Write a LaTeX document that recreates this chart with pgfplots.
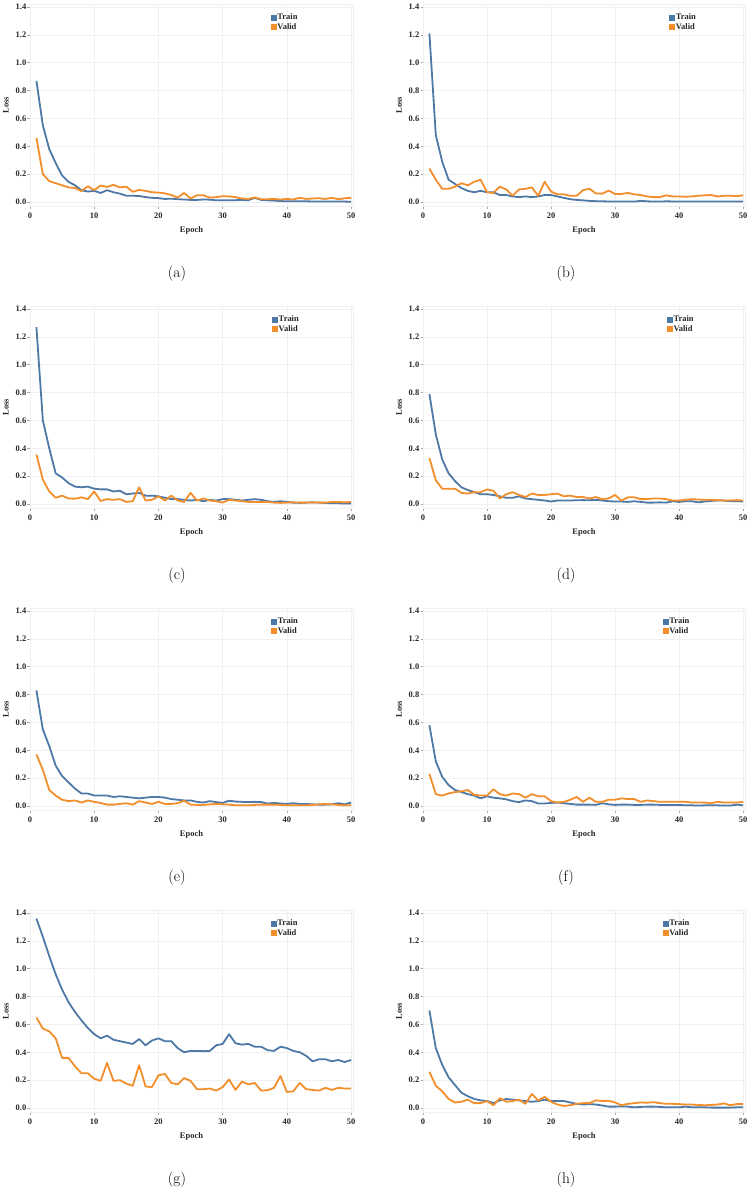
\documentclass[border=0pt]{standalone}
\usepackage{fontspec}
\usepackage{pgfplots}
\usepackage{pgfplotstable}
\pgfplotsset{compat=1.18}
\newfontfamily\tnr{Liberation Serif}
\newcommand\tnrb{\tnr\bfseries\fontsize{8.5}{9}\selectfont}
\definecolor{tabblue}{HTML}{4E79A7}
\definecolor{taborange}{HTML}{F28E2B}
\definecolor{gridc}{HTML}{F0F0F0}

\pgfplotstableread{
e t v
1 0.87 0.46
2 0.55 0.20
3 0.38 0.15
4 0.28 0.135
5 0.19 0.12
6 0.145 0.105
7 0.12 0.10
8 0.085 0.078
9 0.075 0.113
10 0.08 0.085
11 0.065 0.118
12 0.085 0.108
13 0.07 0.123
14 0.06 0.105
15 0.045 0.11
16 0.045 0.073
17 0.043 0.087
18 0.035 0.08
19 0.03 0.07
20 0.028 0.068
21 0.022 0.062
22 0.024 0.05
23 0.02 0.032
24 0.018 0.065
25 0.015 0.025
26 0.015 0.048
27 0.018 0.048
28 0.017 0.032
29 0.012 0.035
30 0.012 0.042
31 0.012 0.04
32 0.013 0.035
33 0.015 0.025
34 0.013 0.022
35 0.03 0.033
36 0.015 0.02
37 0.012 0.02
38 0.01 0.022
39 0.007 0.018
40 0.005 0.022
41 0.005 0.018
42 0.005 0.03
43 0.005 0.022
44 0.004 0.025
45 0.004 0.027
46 0.004 0.022
47 0.003 0.03
48 0.003 0.02
49 0.003 0.027
50 0.002 0.03
}\tA

\pgfplotstableread{
e t v
1 1.21 0.24
2 0.48 0.16
3 0.29 0.095
4 0.16 0.095
5 0.13 0.11
6 0.10 0.135
7 0.08 0.12
8 0.07 0.145
9 0.08 0.16
10 0.07 0.07
11 0.07 0.065
12 0.05 0.11
13 0.05 0.09
14 0.04 0.045
15 0.035 0.09
16 0.04 0.095
17 0.035 0.105
18 0.04 0.045
19 0.05 0.145
20 0.05 0.075
21 0.04 0.055
22 0.03 0.055
23 0.02 0.045
24 0.015 0.045
25 0.012 0.085
26 0.008 0.095
27 0.006 0.062
28 0.005 0.06
29 0.004 0.082
30 0.003 0.058
31 0.003 0.058
32 0.003 0.065
33 0.003 0.055
34 0.008 0.05
35 0.005 0.04
36 0.003 0.035
37 0.003 0.035
38 0.005 0.048
39 0.004 0.04
40 0.003 0.04
41 0.003 0.038
42 0.003 0.04
43 0.003 0.045
44 0.003 0.048
45 0.003 0.05
46 0.004 0.04
47 0.004 0.045
48 0.003 0.045
49 0.003 0.042
50 0.003 0.048
}\tB

\pgfplotstableread{
e t v
1 1.27 0.355
2 0.60 0.175
3 0.40 0.09
4 0.22 0.045
5 0.19 0.06
6 0.15 0.04
7 0.125 0.038
8 0.12 0.048
9 0.125 0.035
10 0.11 0.09
11 0.105 0.022
12 0.105 0.035
13 0.09 0.03
14 0.095 0.035
15 0.07 0.015
16 0.075 0.02
17 0.08 0.12
18 0.06 0.025
19 0.06 0.03
20 0.055 0.055
21 0.045 0.025
22 0.035 0.06
23 0.035 0.025
24 0.03 0.015
25 0.025 0.08
26 0.03 0.025
27 0.02 0.04
28 0.03 0.025
29 0.025 0.02
30 0.035 0.01
31 0.035 0.03
32 0.03 0.025
33 0.025 0.02
34 0.03 0.015
35 0.035 0.015
36 0.03 0.015
37 0.02 0.015
38 0.015 0.01
39 0.02 0.008
40 0.015 0.01
41 0.01 0.012
42 0.008 0.01
43 0.01 0.01
44 0.012 0.012
45 0.01 0.01
46 0.008 0.01
47 0.005 0.015
48 0.005 0.015
49 0.004 0.012
50 0.004 0.015
}\tC

\pgfplotstableread{
e t v
1 0.79 0.33
2 0.50 0.17
3 0.32 0.11
4 0.22 0.11
5 0.165 0.11
6 0.12 0.08
7 0.10 0.075
8 0.085 0.085
9 0.07 0.085
10 0.07 0.105
11 0.065 0.095
12 0.055 0.04
13 0.045 0.07
14 0.045 0.085
15 0.055 0.065
16 0.04 0.05
17 0.035 0.075
18 0.03 0.065
19 0.025 0.065
20 0.018 0.07
21 0.025 0.075
22 0.025 0.055
23 0.025 0.06
24 0.027 0.05
25 0.028 0.05
26 0.027 0.04
27 0.03 0.05
28 0.025 0.035
29 0.02 0.04
30 0.018 0.065
31 0.018 0.025
32 0.015 0.048
33 0.02 0.048
34 0.015 0.035
35 0.01 0.035
36 0.01 0.04
37 0.012 0.04
38 0.01 0.035
39 0.02 0.025
40 0.015 0.025
41 0.02 0.03
42 0.02 0.035
43 0.012 0.032
44 0.018 0.03
45 0.022 0.03
46 0.025 0.028
47 0.025 0.025
48 0.02 0.025
49 0.02 0.028
50 0.018 0.025
}\tD

\pgfplotstableread{
e t v
1 0.83 0.37
2 0.55 0.26
3 0.43 0.115
4 0.29 0.075
5 0.215 0.045
6 0.17 0.035
7 0.125 0.04
8 0.09 0.025
9 0.09 0.04
10 0.075 0.03
11 0.075 0.022
12 0.075 0.01
13 0.065 0.01
14 0.07 0.015
15 0.065 0.02
16 0.06 0.01
17 0.055 0.035
18 0.06 0.025
19 0.065 0.015
20 0.065 0.03
21 0.06 0.015
22 0.05 0.015
23 0.045 0.02
24 0.04 0.038
25 0.04 0.01
26 0.03 0.008
27 0.025 0.008
28 0.035 0.012
29 0.028 0.015
30 0.022 0.012
31 0.038 0.01
32 0.032 0.005
33 0.03 0.005
34 0.028 0.005
35 0.03 0.008
36 0.028 0.01
37 0.018 0.01
38 0.022 0.01
39 0.018 0.008
40 0.015 0.005
41 0.02 0.005
42 0.015 0.005
43 0.015 0.005
44 0.012 0.008
45 0.01 0.012
46 0.01 0.015
47 0.012 0.012
48 0.02 0.008
49 0.012 0.005
50 0.025 0.005
}\tE

\pgfplotstableread{
e t v
1 0.58 0.23
2 0.32 0.085
3 0.21 0.075
4 0.15 0.09
5 0.115 0.10
6 0.10 0.105
7 0.085 0.115
8 0.075 0.08
9 0.055 0.075
10 0.07 0.075
11 0.06 0.12
12 0.055 0.085
13 0.048 0.075
14 0.035 0.09
15 0.028 0.085
16 0.04 0.06
17 0.035 0.085
18 0.018 0.07
19 0.018 0.07
20 0.022 0.035
21 0.025 0.025
22 0.02 0.03
23 0.015 0.045
24 0.01 0.065
25 0.01 0.03
26 0.01 0.06
27 0.008 0.03
28 0.02 0.03
29 0.012 0.045
30 0.008 0.045
31 0.01 0.055
32 0.01 0.05
33 0.008 0.05
34 0.008 0.03
35 0.01 0.04
36 0.01 0.035
37 0.008 0.03
38 0.008 0.03
39 0.008 0.03
40 0.008 0.03
41 0.005 0.03
42 0.005 0.025
43 0.003 0.025
44 0.005 0.025
45 0.005 0.02
46 0.005 0.03
47 0.003 0.025
48 0.003 0.025
49 0.01 0.025
50 0.005 0.03
}\tF

\pgfplotstableread{
e t v
1 1.36 0.65
2 1.23 0.57
3 1.09 0.55
4 0.96 0.50
5 0.85 0.36
6 0.76 0.36
7 0.69 0.30
8 0.63 0.25
9 0.575 0.25
10 0.53 0.21
11 0.50 0.195
12 0.52 0.324
13 0.49 0.195
14 0.48 0.20
15 0.47 0.175
16 0.46 0.16
17 0.495 0.307
18 0.45 0.155
19 0.485 0.15
20 0.50 0.235
21 0.48 0.245
22 0.48 0.18
23 0.43 0.17
24 0.40 0.215
25 0.41 0.195
26 0.41 0.135
27 0.408 0.135
28 0.41 0.14
29 0.45 0.125
30 0.46 0.15
31 0.53 0.205
32 0.465 0.13
33 0.455 0.19
34 0.46 0.17
35 0.44 0.18
36 0.44 0.125
37 0.415 0.128
38 0.41 0.145
39 0.44 0.23
40 0.43 0.115
41 0.41 0.12
42 0.40 0.18
43 0.375 0.135
44 0.335 0.13
45 0.35 0.125
46 0.35 0.145
47 0.335 0.13
48 0.345 0.145
49 0.33 0.14
50 0.345 0.14
}\tG

\pgfplotstableread{
e t v
1 0.70 0.26
2 0.43 0.16
3 0.31 0.12
4 0.22 0.065
5 0.165 0.04
6 0.11 0.045
7 0.085 0.06
8 0.065 0.035
9 0.055 0.035
10 0.05 0.05
11 0.035 0.02
12 0.055 0.07
13 0.065 0.045
14 0.06 0.05
15 0.055 0.06
16 0.05 0.03
17 0.045 0.10
18 0.05 0.055
19 0.06 0.08
20 0.05 0.045
21 0.05 0.025
22 0.05 0.015
23 0.04 0.02
24 0.03 0.03
25 0.025 0.035
26 0.028 0.035
27 0.025 0.055
28 0.018 0.05
29 0.01 0.052
30 0.01 0.04
31 0.012 0.02
32 0.01 0.03
33 0.005 0.035
34 0.008 0.04
35 0.01 0.038
36 0.01 0.042
37 0.008 0.035
38 0.005 0.03
39 0.005 0.03
40 0.005 0.028
41 0.01 0.025
42 0.005 0.025
43 0.005 0.022
44 0.005 0.02
45 0.003 0.022
46 0.003 0.025
47 0.003 0.033
48 0.003 0.02
49 0.005 0.028
50 0.005 0.028
}\tH

\pgfplotsset{
  panel/.style={
    scale only axis,
    anchor=south west,
    height=202bp,
    xmin=0, xmax=50.3,
    ymin=-0.03, ymax=1.42,
    xtick={0,10,20,30,40,50},
    xticklabels={0,10,20,30,40,50},
    ytick={0,0.2,0.4,0.6,0.8,1.0,1.2,1.4},
    yticklabels={0.0,0.2,0.4,0.6,0.8,1.0,1.2,1.4},
    grid=major,
    major grid style={draw=gridc, line width=0.5bp},
    axis line style={draw=gridc, line width=0.5bp},
    tick align=outside,
    major tick length=2.5bp,
    tick style={draw=gray!70, line width=0.5bp},
    xtick pos=bottom, ytick pos=left,
    tick label style={font=\tnrb, text=black!85},
    xticklabel style={inner sep=1.5bp, yshift=-2bp},
    yticklabel style={inner sep=1bp},
    xlabel={Epoch}, ylabel={Loss},
    label style={font=\tnrb, text=black!85},
    xlabel style={at={(axis description cs:0.5,-0.118)}, anchor=center},
    ylabel style={at={(axis description cs:-0.0743,0.5)}, anchor=center, rotate=0},
    legend style={draw=none, fill=none, font=\tnrb, inner sep=0pt,
      row sep=0.6bp, anchor=north west, text=black!85,
      nodes={inner sep=0.6bp}},
    legend cell align=left,
    legend image code/.code={\fill[#1,draw=none] (0bp,-3bp) rectangle (6bp,3bp);},
    every axis plot/.append style={line width=1.8bp, line join=round},
  },
  trainst/.style={color=tabblue},
  validst/.style={color=taborange},
}

\begin{document}
\begin{tikzpicture}
\path[use as bounding box] (0,0) rectangle (753bp,1193bp);

% (a)
\begin{axis}[panel, at={(30bp,986.8bp)}, width=323bp, legend style={at={(0.745,0.955)}}]
\addplot[trainst] table[x=e,y=t]{\tA};
\addplot[validst] table[x=e,y=v]{\tA};
\legend{Train,Valid}
\end{axis}
% (b)
\begin{axis}[panel, at={(423bp,986.8bp)}, width=322bp, legend style={at={(0.764,0.955)}}]
\addplot[trainst] table[x=e,y=t]{\tB};
\addplot[validst] table[x=e,y=v]{\tB};
\legend{Train,Valid}
\end{axis}
% (c)
\begin{axis}[panel, at={(30bp,684.8bp)}, width=323bp, legend style={at={(0.749,0.955)}}]
\addplot[trainst] table[x=e,y=t]{\tC};
\addplot[validst] table[x=e,y=v]{\tC};
\legend{Train,Valid}
\end{axis}
% (d)
\begin{axis}[panel, at={(423bp,684.8bp)}, width=322bp, legend style={at={(0.757,0.955)}}]
\addplot[trainst] table[x=e,y=t]{\tD};
\addplot[validst] table[x=e,y=v]{\tD};
\legend{Train,Valid}
\end{axis}
% (e)
\begin{axis}[panel, at={(30bp,382.8bp)}, width=323bp, legend style={at={(0.746,0.955)}}]
\addplot[trainst] table[x=e,y=t]{\tE};
\addplot[validst] table[x=e,y=v]{\tE};
\legend{Train,Valid}
\end{axis}
% (f)
\begin{axis}[panel, at={(423bp,382.8bp)}, width=322bp, legend style={at={(0.744,0.955)}}]
\addplot[trainst] table[x=e,y=t]{\tF};
\addplot[validst] table[x=e,y=v]{\tF};
\legend{Train,Valid}
\end{axis}
% (g)
\begin{axis}[panel, at={(30bp,80.8bp)}, width=323bp, legend style={at={(0.745,0.955)}}]
\addplot[trainst] table[x=e,y=t]{\tG};
\addplot[validst] table[x=e,y=v]{\tG};
\legend{Train,Valid}
\end{axis}
% (h)
\begin{axis}[panel, at={(423bp,80.8bp)}, width=322bp, legend style={at={(0.744,0.955)}}]
\addplot[trainst] table[x=e,y=t]{\tH};
\addplot[validst] table[x=e,y=v]{\tH};
\legend{Train,Valid}
\end{axis}

\begin{scope}[every node/.style={font=\fontsize{15.5}{18}\selectfont, inner sep=0pt}]
\node at (177bp,919bp) {(a)};
\node at (566bp,919bp) {(b)};
\node at (177bp,617bp) {(c)};
\node at (566bp,617bp) {(d)};
\node at (177bp,315bp) {(e)};
\node at (566bp,315bp) {(f)};
\node at (177bp,13bp) {(g)};
\node at (566bp,13bp) {(h)};
\end{scope}
\end{tikzpicture}
\end{document}
